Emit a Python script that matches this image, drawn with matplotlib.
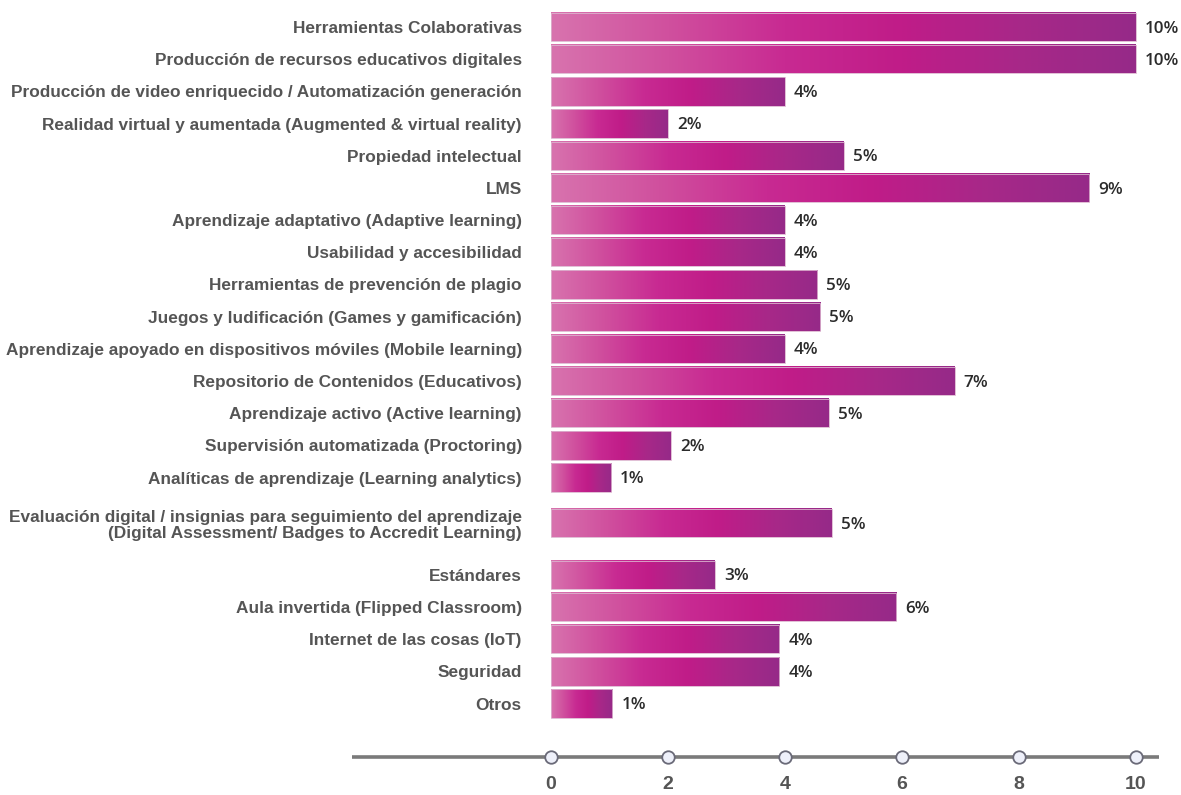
import numpy as np
import matplotlib
matplotlib.use("Agg")
import matplotlib.pyplot as plt
from matplotlib.colors import LinearSegmentedColormap
from matplotlib import font_manager

categories = [
    "Herramientas Colaborativas",
    "Producción de recursos educativos digitales",
    "Producción de video enriquecido / Automatización generación",
    "Realidad virtual y aumentada (Augmented & virtual reality)",
    "Propiedad intelectual",
    "LMS",
    "Aprendizaje adaptativo (Adaptive learning)",
    "Usabilidad y accesibilidad",
    "Herramientas de prevención de plagio",
    "Juegos y ludificación (Games y gamificación)",
    "Aprendizaje apoyado en dispositivos móviles (Mobile learning)",
    "Repositorio de Contenidos (Educativos)",
    "Aprendizaje activo (Active learning)",
    "Supervisión automatizada (Proctoring)",
    "Analíticas de aprendizaje (Learning analytics)",
    "Evaluación digital / insignias para seguimiento del aprendizaje\n(Digital Assessment/ Badges to Accredit Learning)",
    "Estándares",
    "Aula invertida (Flipped Classroom)",
    "Internet de las cosas (IoT)",
    "Seguridad",
    "Otros",
]
values = [10.0, 10.0, 4.0, 2.0, 5.0, 9.2, 4.0, 4.0, 4.55, 4.6, 4.0,
          6.9, 4.75, 2.05, 1.03, 4.8, 2.8, 5.9, 3.9, 3.9, 1.05]
value_labels = ["10%", "10%", "4%", "2%", "5%", "9%", "4%", "4%", "5%", "5%", "4%",
                "7%", "5%", "2%", "1%", "5%", "3%", "6%", "4%", "4%", "1%"]
ticks = [0, 2, 4, 6, 8, 10]
tick_labels = ["0", "2", "4", "6", "8", "10"]

# layout: extra vertical gap around the two-line label
extra_gap = [0.0] * len(categories)
extra_gap[15] = 0.41
extra_gap[16] = 0.61
positions = np.arange(len(categories)) + np.cumsum(extra_gap)

avail = {f.name for f in font_manager.fontManager.ttflist}
narrow = "Liberation Sans Narrow" if "Liberation Sans Narrow" in avail else "Liberation Sans"
cat_size = 12.5 if narrow == "Liberation Sans Narrow" else 12.4

W, H = 1181, 795
fig = plt.figure(figsize=(W / 100, H / 100), dpi=100)
x0_px, top_px, bot_px = 551, 0, 757
ax = fig.add_axes([x0_px / W, 1 - bot_px / H, (W - x0_px) / W, (bot_px - top_px) / H])
px_per_unit = 58.5
ax.set_xlim(0, (W - x0_px) / px_per_unit)
ax.set_ylim(22.68, -0.839)

cmap = LinearSegmentedColormap.from_list(
    "bar", ["#d873ae", "#d0509e", "#c82a92", "#c01c88", "#a82888", "#962a88"])
grad = np.linspace(0, 1, 256).reshape(1, -1)
bh = 0.88
for pos, v in zip(positions, values):
    ax.imshow(grad, cmap=cmap, aspect="auto", interpolation="bilinear",
              extent=[0, v, pos + bh / 2, pos - bh / 2], zorder=2)
    ax.add_patch(plt.Rectangle((0, pos - bh / 2), v, bh, fill=False,
                               edgecolor="#dcb4cf", linewidth=0.6, zorder=3))

for pos, v, lab in zip(positions, values, value_labels):
    ax.text(v + 9 / px_per_unit, pos + 0.05, lab, va="center", ha="left",
            fontfamily="Open Sans", fontweight=600, fontsize=12.3,
            color="#2b2b2b")

ax.set_yticks(positions)
ax.set_yticklabels(categories, fontfamily=narrow, fontweight="bold",
                   fontsize=cat_size, color="#555555", linespacing=1.1)
ax.tick_params(axis="y", length=0, pad=21)

ax.set_xticks(ticks)
ax.set_xticklabels(tick_labels, fontfamily=narrow, fontweight="bold",
                   fontsize=14, color="#555555")
ax.tick_params(axis="x", length=0, pad=14)

for s in ax.spines.values():
    s.set_visible(False)

y_axis = 22.68
ax.plot([-3.4, 10.4], [y_axis, y_axis], color="#7a7a7a", linewidth=2.6,
        clip_on=False, zorder=4, solid_capstyle="butt")
ax.plot(ticks, [y_axis] * len(ticks), "o", markersize=9,
        markerfacecolor="#eef0fa", markeredgecolor="#6a6a78",
        markeredgewidth=1.3, clip_on=False, zorder=5)

fig.savefig("out.png", dpi=100)
